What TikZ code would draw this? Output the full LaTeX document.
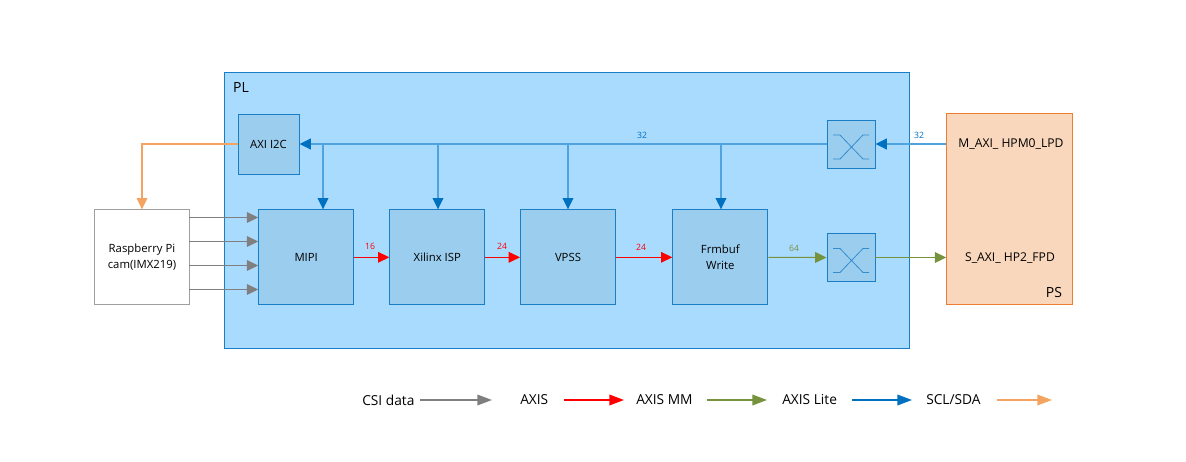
\documentclass[tikz,border=0pt]{standalone}
\usepackage{fontspec}
\setmainfont{Open Sans}
\usepackage{xcolor}
\usetikzlibrary{arrows.meta}
\definecolor{plfill}{HTML}{A9DBFF}
\definecolor{blockfill}{HTML}{9BCDEE}
\definecolor{psfill}{HTML}{F9D7BC}
\definecolor{psline}{HTML}{ED7D31}
\definecolor{axiblue}{HTML}{0070C0}
\definecolor{busblue}{HTML}{4FA3DF}
\definecolor{csigray}{HTML}{7F7F7F}
\definecolor{mmgreen}{HTML}{76923C}
\definecolor{sclorange}{HTML}{F4A460}
\tikzset{
	block/.style={draw=axiblue!90, fill=blockfill, line width=.7pt, align=center, inner sep=0pt, font=\fontsize{8.5}{12}\selectfont},
	wire/.style={-{Triangle[length=8.5pt,width=8pt]}, line width=.75pt},
	legendwire/.style={-{Triangle[length=11pt,width=8pt]}, line width=1.1pt},
	buswire/.style={busblue, line width=1pt, arrows={-{Triangle[length=8.5pt,width=8pt,color=axiblue]}}},
	widthlabel/.style={font=\fontsize{6.5}{7}\selectfont, inner sep=0pt},
	legendlabel/.style={font=\fontsize{10.3}{12}\selectfont, inner sep=0pt, anchor=west}
}
\begin{document}
\begin{tikzpicture}[x=.75pt, y=-.75pt]
	\useasboundingbox (0,0) rectangle (1186,461);
	\node (pl) [draw=axiblue!90, fill=plfill, line width=.7pt, minimum width=513.75pt, minimum height=207pt, inner sep=0pt] at (566.5,210) {};
	\node (pltext) [font=\fontsize{10.5}{12}\selectfont, inner sep=0pt] at (241,87) {PL};

	\node (i2c) [block, minimum width=45.75pt, minimum height=45pt] at (268.5,144) {AXI I2C};
	\node (mipi) [block, minimum width=71.25pt, minimum height=71.25pt] at (306.2,257.3) {MIPI};
	\node (isp) [block, minimum width=71.25pt, minimum height=71.25pt] at (437.3,257.3) {Xilinx ISP};
	\node (vpss) [block, minimum width=71.25pt, minimum height=71.25pt] at (568,257.3) {VPSS};
	\node (frm) [block, minimum width=71.25pt, minimum height=71.25pt] at (720.3,257.3) {Frmbuf\\Write};
	\node (swa) [block, minimum width=36pt, minimum height=36pt] at (851,144) {};
	\node (swb) [block, minimum width=36pt, minimum height=36pt] at (851,257.5) {};
	\node (cam) [draw=gray!75, fill=white, line width=.7pt, minimum width=71.25pt, minimum height=71.25pt, align=center, inner sep=0pt, font=\fontsize{8.5}{12}\selectfont] at (142,257.3) {Raspberry Pi\\cam(IMX219)};
	\node (ps) [draw=psline, fill=psfill, line width=.7pt, minimum width=94.5pt, minimum height=143.25pt, inner sep=0pt] at (1009.7,209.3) {};
	\node (hpm) [font=\fontsize{9.1}{10}\selectfont, inner sep=0pt] at (1011,144) {M\_AXI\_ HPM0\_LPD};
	\node (hp) [font=\fontsize{9.1}{10}\selectfont, inner sep=0pt] at (1010,258) {S\_AXI\_ HP2\_FPD};
	\node (pstext) [font=\fontsize{10.5}{12}\selectfont, inner sep=0pt] at (1054,292) {PS};

	% crossbar symbols
	\foreach \sw in {swa,swb}
	{
		\draw[axiblue!80, line width=.6pt] ([shift={(-18,-9)}]\sw.center) -- ([shift={(-11,-9)}]\sw.center) -- ([shift={(12,15)}]\sw.center) -- ([shift={(18,15)}]\sw.center);
		\draw[axiblue!80, line width=.6pt] ([shift={(-18,15)}]\sw.center) -- ([shift={(-11,15)}]\sw.center) -- ([shift={(12,-9)}]\sw.center) -- ([shift={(18,-9)}]\sw.center);
	}

	% lite bus
	\coordinate (hpmout) at (ps.west |- swa.east);
	\draw[buswire, line width=1.1pt] (hpmout) -- (swa.east);
	\draw[buswire, line width=1.1pt] (swa.west) -- (i2c.east);
	\foreach \x/\target in {323/mipi,438/isp,568/vpss,721/frm}
	{
		\coordinate (tap\target) at (\x,144);
		\draw[buswire] (tap\target) -- (tap\target |- \target.north);
	}
	\node (buslabel) [widthlabel, text=axiblue] at (642,135) {32};
	\node (hpmlabel) [widthlabel, text=axiblue] at (919,135) {32};

	% camera lanes
	\foreach \y [count=\i] in {217.5,241.5,265.5,289.5}
	{
		\coordinate (lane\i) at (189,\y);
		\draw[wire, csigray] (lane\i) -- (lane\i -| mipi.west);
	}

	% i2c to camera
	\draw[wire, sclorange, line width=.9pt] (i2c.west) -| (cam.north);

	% video path
	\draw[wire, red] (mipi.east) -- (isp.west);
	\draw[wire, red] (isp.east) -- (vpss.west);
	\draw[wire, red] (vpss.east) -- (frm.west);
	\draw[wire, mmgreen] (frm.east) -- (swb.west);
	\draw[wire, mmgreen] (swb.east) -- (ps.west |- swb.east);
	\node (misplabel) [widthlabel, text=red] at (370,246) {16};
	\node (ispvlabel) [widthlabel, text=red] at (502,246) {24};
	\node (vfrmlabel) [widthlabel, text=red] at (641,247) {24};
	\node (frmlabel) [widthlabel, text=mmgreen] at (794,248) {64};

	% legend
	\node (csitext) [legendlabel] at (362,400) {CSI data};
	\node (axistext) [legendlabel] at (520,400) {AXIS};
	\node (mmtext) [legendlabel] at (636,400) {AXIS MM};
	\node (litetext) [legendlabel] at (782,400) {AXIS Lite};
	\node (scltext) [legendlabel] at (926,400) {SCL/SDA};
	\foreach \name/\xa/\xb/\col in {csi/420/492/csigray,axis/564/624/red,mm/707/767/mmgreen,lite/852/912/axiblue,scl/997/1052/sclorange}
	{
		\coordinate (\name start) at (\xa,400);
		\coordinate (\name end) at (\xb,400);
		\draw[legendwire, \col] (\name start) -- (\name end);
	}
\end{tikzpicture}
\end{document}
